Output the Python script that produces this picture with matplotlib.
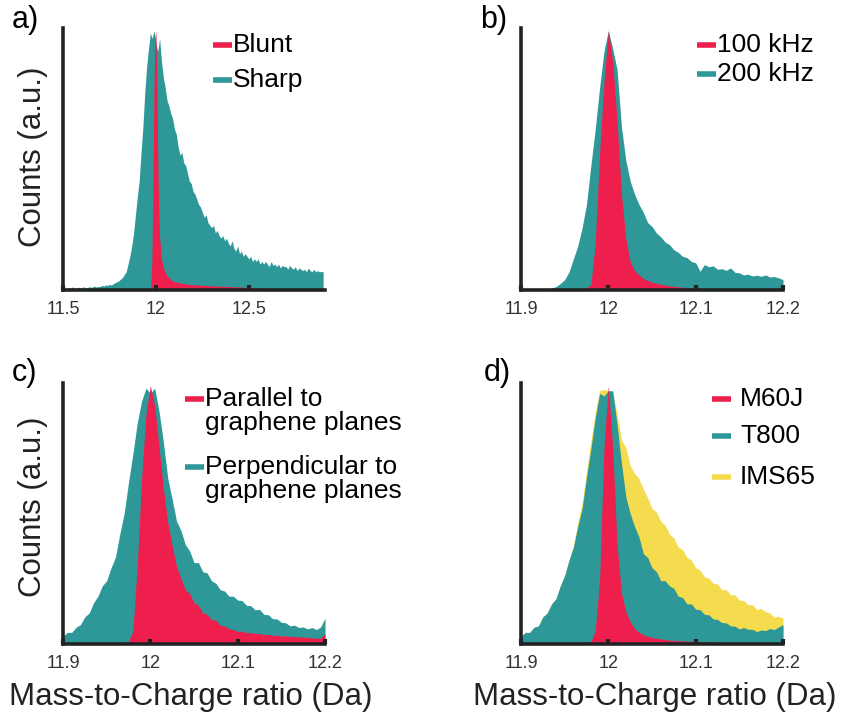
import matplotlib.pyplot as plt
import numpy as np
from matplotlib.lines import Line2D

plt.rcParams["font.family"] = ["Liberation Sans", "DejaVu Sans"]

RED = "#ee1f4d"
TEAL = "#2e9899"
YELLOW = "#f5db4e"
AXIS = "#222222"

# panel a: blunt vs sharp tip, wide window
mz_a = np.round(np.arange(11.50, 12.905, 0.01), 2)
sharp = [
    0.006, 0.008, 0.005, 0.010, 0.007, 0.012, 0.008, 0.006, 0.011, 0.009,
    0.008, 0.012, 0.010, 0.007, 0.013, 0.010, 0.012, 0.015, 0.011, 0.014,
    0.013, 0.018, 0.015, 0.020, 0.017, 0.022, 0.019, 0.024, 0.028, 0.032,
    0.035, 0.042, 0.048, 0.060, 0.070, 0.100, 0.130, 0.170, 0.220, 0.290,
    0.360, 0.420, 0.530, 0.630, 0.760, 0.860, 0.930, 0.990, 0.970, 1.000,
    0.950, 0.920, 0.970, 0.880, 0.820, 0.780, 0.730, 0.710, 0.680, 0.660,
    0.620, 0.600, 0.550, 0.520, 0.530, 0.490, 0.480, 0.450, 0.420, 0.410,
    0.380, 0.370, 0.350, 0.330, 0.320, 0.300, 0.280, 0.290, 0.260, 0.250,
    0.240, 0.250, 0.220, 0.230, 0.210, 0.200, 0.210, 0.190, 0.200, 0.180,
    0.170, 0.190, 0.160, 0.150, 0.170, 0.140, 0.150, 0.130, 0.140, 0.130,
    0.120, 0.130, 0.110, 0.120, 0.110, 0.120, 0.100, 0.110, 0.100, 0.110,
    0.100, 0.090, 0.110, 0.095, 0.100, 0.090, 0.100, 0.085, 0.095, 0.090,
    0.090, 0.080, 0.095, 0.085, 0.080, 0.090, 0.075, 0.085, 0.080, 0.075,
    0.080, 0.070, 0.085, 0.075, 0.070, 0.080, 0.070, 0.075, 0.070, 0.072,
    0.070,
]
mz_blunt = [11.50, 11.96, 11.972, 11.978, 11.984, 11.99, 11.995, 12.0, 12.004,
            12.008, 12.012, 12.016, 12.02, 12.03, 12.04, 12.06, 12.08, 12.10,
            12.15, 12.20, 12.30, 12.40, 12.50, 12.60, 12.70, 12.90]
blunt = [0.0, 0.0, 0.01, 0.10, 0.40, 0.80, 0.97, 1.0, 0.85,
         0.62, 0.42, 0.28, 0.20, 0.12, 0.085, 0.055, 0.04, 0.032,
         0.025, 0.02, 0.016, 0.013, 0.01, 0.006, 0.004, 0.002]

# panels b-d share the narrow window
mz = np.round(np.arange(11.900, 12.2001, 0.005), 3)

khz200 = [
    0.0, 0.0, 0.0, 0.001, 0.001, 0.002, 0.003, 0.007, 0.013, 0.025,
    0.04, 0.07, 0.12, 0.17, 0.24, 0.33, 0.48, 0.62, 0.78, 0.92,
    1.0, 0.93, 0.85, 0.63, 0.50, 0.42, 0.37, 0.33, 0.30, 0.26,
    0.245, 0.22, 0.205, 0.185, 0.175, 0.155, 0.145, 0.13, 0.125, 0.11,
    0.105, 0.072, 0.098, 0.09, 0.093, 0.08, 0.082, 0.076, 0.085, 0.068,
    0.066, 0.058, 0.061, 0.054, 0.057, 0.053, 0.058, 0.05, 0.052, 0.047,
    0.04,
]
khz100 = [
    0.0, 0.0, 0.0, 0.0, 0.0, 0.0, 0.0, 0.0, 0.0, 0.0,
    0.0, 0.0, 0.001, 0.002, 0.004, 0.008, 0.02, 0.18, 0.53, 0.80,
    1.0, 0.88, 0.65, 0.37, 0.20, 0.11, 0.075, 0.058, 0.045, 0.037,
    0.03, 0.026, 0.022, 0.019, 0.016, 0.014, 0.012, 0.011, 0.01, 0.009,
    0.008, 0.007, 0.006, 0.006, 0.005, 0.005, 0.004, 0.004, 0.003, 0.003,
    0.003, 0.002, 0.002, 0.002, 0.002, 0.001, 0.001, 0.001, 0.001, 0.001,
    0.001,
]

perpendicular = [
    0.03, 0.045, 0.045, 0.065, 0.075, 0.105, 0.12, 0.16, 0.185, 0.225,
    0.245, 0.295, 0.335, 0.425, 0.505, 0.625, 0.735, 0.855, 0.94, 0.99,
    0.97, 0.99, 0.90, 0.78, 0.64, 0.56, 0.475, 0.44, 0.385, 0.36,
    0.315, 0.315, 0.28, 0.275, 0.245, 0.235, 0.21, 0.205, 0.185, 0.185,
    0.17, 0.168, 0.15, 0.148, 0.132, 0.134, 0.115, 0.113, 0.098, 0.097,
    0.084, 0.082, 0.07, 0.073, 0.064, 0.066, 0.058, 0.064, 0.056, 0.066,
    0.10,
]
parallel = [
    0.0, 0.0, 0.0, 0.0, 0.0, 0.001, 0.001, 0.001, 0.002, 0.002,
    0.002, 0.003, 0.003, 0.004, 0.005, 0.01, 0.05, 0.30, 0.64, 0.89,
    1.0, 0.92, 0.76, 0.60, 0.47, 0.38, 0.30, 0.255, 0.21, 0.195,
    0.16, 0.15, 0.12, 0.115, 0.095, 0.092, 0.072, 0.07, 0.058, 0.057,
    0.048, 0.05, 0.043, 0.045, 0.04, 0.042, 0.036, 0.038, 0.033, 0.035,
    0.03, 0.032, 0.028, 0.03, 0.026, 0.028, 0.024, 0.025, 0.022, 0.023,
    0.04,
]

t800 = [
    0.03, 0.045, 0.045, 0.065, 0.07, 0.105, 0.12, 0.155, 0.175, 0.225,
    0.265, 0.325, 0.375, 0.455, 0.525, 0.645, 0.755, 0.875, 0.97, 0.96,
    0.98, 0.98, 0.85, 0.70, 0.57, 0.505, 0.455, 0.415, 0.35, 0.335,
    0.295, 0.28, 0.245, 0.245, 0.225, 0.215, 0.185, 0.18, 0.155, 0.155,
    0.135, 0.133, 0.115, 0.113, 0.097, 0.095, 0.083, 0.082, 0.07, 0.069,
    0.058, 0.064, 0.057, 0.057, 0.048, 0.054, 0.052, 0.06, 0.056, 0.066,
    0.075,
]
ims65 = [
    0.03, 0.045, 0.045, 0.065, 0.07, 0.105, 0.12, 0.155, 0.175, 0.225,
    0.265, 0.325, 0.38, 0.47, 0.545, 0.67, 0.785, 0.895, 0.98, 0.985,
    0.98, 0.97, 0.89, 0.79, 0.76, 0.69, 0.66, 0.64, 0.60, 0.565,
    0.525, 0.51, 0.475, 0.46, 0.425, 0.41, 0.375, 0.365, 0.335, 0.325,
    0.295, 0.285, 0.26, 0.255, 0.235, 0.232, 0.21, 0.21, 0.19, 0.19,
    0.17, 0.168, 0.152, 0.152, 0.133, 0.138, 0.125, 0.12, 0.103, 0.108,
    0.10,
]
m60j = [
    0.0, 0.0, 0.0, 0.0, 0.0, 0.0, 0.0, 0.0, 0.0, 0.0,
    0.0, 0.001, 0.001, 0.002, 0.003, 0.005, 0.01, 0.05, 0.25, 0.76,
    1.0, 0.76, 0.38, 0.20, 0.125, 0.087, 0.06, 0.046, 0.036, 0.03,
    0.025, 0.022, 0.02, 0.017, 0.015, 0.014, 0.013, 0.012, 0.011, 0.01,
    0.01, 0.009, 0.008, 0.008, 0.007, 0.007, 0.006, 0.006, 0.005, 0.005,
    0.005, 0.004, 0.004, 0.004, 0.003, 0.003, 0.003, 0.003, 0.003, 0.003,
    0.003,
]

W, H = 844, 719
fig = plt.figure(figsize=(W / 100, H / 100), dpi=100)


def px_axes(left, top, right, bottom):
    return fig.add_axes([left / W, 1 - bottom / H, (right - left) / W, (bottom - top) / H])


def style_axes(ax, xlim, ticks, labels):
    ax.set_xlim(*xlim)
    ax.set_ylim(0, 1.01)
    for side in ["top", "right"]:
        ax.spines[side].set_visible(False)
    for side in ["left", "bottom"]:
        ax.spines[side].set_linewidth(2.6)
        ax.spines[side].set_color(AXIS)
        ax.spines[side].set_capstyle("projecting")
    ax.set_yticks([])
    ax.set_xticks(ticks)
    ax.set_xticklabels(labels)
    ax.tick_params(axis="x", direction="in", length=3.5, width=3, color=AXIS,
                   labelsize=13, labelcolor="#333333", pad=8)


def legend(entries, hx, tx):
    # entries: (color, text, y of handle)
    for color, text, y in entries:
        fig.add_artist(Line2D([hx / W, (hx + 19) / W], [1 - y / H, 1 - y / H],
                              color=color, lw=4, solid_capstyle="butt"))
        fig.text(tx / W, 1 - (y - 12) / H, text, fontsize=19, va="top",
                 ha="left", linespacing=1.0)


# a)
ax = px_axes(63, 28, 325, 290)
ax.fill_between(mz_a, sharp, color=TEAL, lw=0)
ax.fill_between(mz_blunt, blunt, color=RED, lw=0)
style_axes(ax, (11.5, 12.91), [11.5, 12, 12.5], ["11.5", "12", "12.5"])
legend([(RED, "Blunt", 45), (TEAL, "Sharp", 80)], 213, 233)

# b)
ax = px_axes(521, 28, 783, 290)
ax.fill_between(mz, khz200, color=TEAL, lw=0)
ax.fill_between(mz, khz100, color=RED, lw=0)
style_axes(ax, (11.9, 12.2), [11.9, 12.0, 12.1, 12.2], ["11.9", "12", "12.1", "12.2"])
legend([(RED, "100 kHz", 45), (TEAL, "200 kHz", 74)], 697, 717)

# c)
ax = px_axes(63, 383, 325, 644)
ax.fill_between(mz, perpendicular, color=TEAL, lw=0)
ax.fill_between(mz, parallel, color=RED, lw=0)
style_axes(ax, (11.9, 12.2), [11.9, 12.0, 12.1, 12.2], ["11.9", "12", "12.1", "12.2"])
legend([(RED, "Parallel to\ngraphene planes", 399),
        (TEAL, "Perpendicular to\ngraphene planes", 467)], 185, 205)

# d)
ax = px_axes(521, 383, 783, 644)
ax.fill_between(mz, ims65, color=YELLOW, lw=0)
ax.fill_between(mz, t800, color=TEAL, lw=0)
ax.fill_between(mz, m60j, color=RED, lw=0)
style_axes(ax, (11.9, 12.2), [11.9, 12.0, 12.1, 12.2], ["11.9", "12", "12.1", "12.2"])
legend([(RED, "M60J", 399), (TEAL, "T800", 436), (YELLOW, "IMS65", 477)], 712, 740)

# panel letters and axis titles
for letter, x, y in [("a)", 12, 20), ("b)", 480, 20), ("c)", 12, 373), ("d)", 484, 373)]:
    fig.text(x / W, 1 - y / H, letter, fontsize=22, va="center", ha="left")
for y in [157, 507]:
    fig.text(33 / W, 1 - y / H, "Counts (a.u.)", fontsize=22.5, rotation=90,
             va="center", ha="center", color="#222222")
for x in [191, 655]:
    fig.text(x / W, 1 - 697 / H, "Mass-to-Charge ratio (Da)", fontsize=22.5,
             va="center", ha="center", color="#222222")

fig.savefig("out.png", dpi=100)
